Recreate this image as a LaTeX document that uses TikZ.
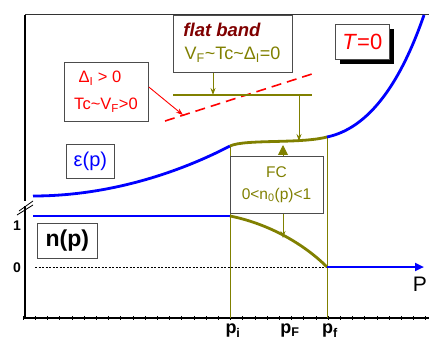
\documentclass[tikz,border=0pt]{standalone}
\usepackage{fontspec}
\setmainfont{Liberation Sans}
\usetikzlibrary{arrows.meta}
\definecolor{olv}{RGB}{128,128,0}
\definecolor{dred}{RGB}{128,0,0}
\newcommand{\mysub}[1]{\textsubscript{#1}}
\begin{document}
\begin{tikzpicture}[x=1pt,y=-1pt,
  boxst/.style={draw=black!70,line width=0.8pt,fill=white,inner sep=2pt,align=center},
  olvline/.style={olv,line width=1.3pt},
  olvarr/.style={olv,line width=0.9pt,-{Stealth[length=7pt,width=5pt]}},
  blueline/.style={blue,line width=2.8pt},
  lbl/.style={font=\bfseries\fontsize{18}{20}\selectfont,inner sep=0pt}]
\useasboundingbox (0,0) rectangle (429,345);
% frame
\draw[black!80,line width=1pt] (25,15) -- (432,15);
\draw[black,line width=1.2pt] (25,15) -- (25,201);
\draw[black,line width=1.2pt] (25,206) -- (25,318) -- (432,318);
\draw[black,line width=0.8pt] (17,215) -- (33,205);
\draw[black,line width=0.8pt] (19,211) -- (33,201);
\foreach \k in {-16,...,17} {\draw[black,line width=0.6pt] (218.3+12.2*\k,316) -- (218.3+12.2*\k,319.5);}
% dashed zero line
\draw[black,dashed,line width=0.5pt,dash pattern=on 2pt off 1.5pt] (35,267) -- (327,267);
% olive verticals
\draw[olvline,line width=1pt] (230,146) -- (230,318);
\draw[olvline,line width=1pt] (327,137) -- (327,318);
% epsilon curve
\draw[blueline] (33,196) .. controls (110,196) and (180,172) .. (230,146);
\draw[olv,line width=2.8pt] (230,146) .. controls (245,139) and (300,144) .. (327,137);
\draw[blueline] (327,137) .. controls (375,127) and (405,70) .. (424,15);
% n curve
\draw[blueline] (33,216) -- (230,216);
\draw[olv,line width=2.8pt] (230,216) .. controls (270,224) and (305,245) .. (327,267);
\draw[blueline,-{Triangle[length=9pt,width=8pt]}] (327,267) -- (424,267);
% red dashed line
\draw[red,line width=1.6pt,dash pattern=on 10pt off 6pt] (165,121) -- (312,74);
% flat band line
\draw[olvline] (173,95) -- (312,95);
% boxes
\node[boxst,minimum width=119pt,minimum height=57pt,anchor=north west] (fb) at (173,15) {};
\node[font=\bfseries\itshape\fontsize{18.5}{20}\selectfont,text=dred,inner sep=0pt] (fbt) at (222,30) {flat band};
\node[font=\fontsize{18}{20}\selectfont,text=olv,inner sep=0pt] (fbv) at (232.5,55) {V\mysub{F}\textasciitilde Tc\textasciitilde Δ\mysub{I}=0};
\node[boxst,minimum width=84pt,minimum height=59pt,anchor=north west] (rb) at (64,62) {};
\node[font=\fontsize{16.5}{18}\selectfont,text=red,inner sep=0pt] (rb1) at (100,78) {Δ\mysub{I} > 0};
\node[font=\fontsize{16.5}{18}\selectfont,text=red,inner sep=0pt] (rb2) at (106,105) {Tc\textasciitilde V\mysub{F}>0};
\node[fill=black,minimum width=54pt,minimum height=35pt,anchor=north west,inner sep=0pt] (ts) at (340,29) {};
\node[boxst,minimum width=54pt,minimum height=35pt,anchor=north west,inner sep=0pt,font=\fontsize{22}{24}\selectfont,text=red] (tz) at (335,24) {\textit{T}=0};
\node[boxst,minimum width=48pt,minimum height=34pt,anchor=north west,inner sep=0pt,font=\fontsize{20}{22}\selectfont,text=blue] (eps) at (66,144) {ε(p)};
\node[boxst,minimum width=93pt,minimum height=57pt,anchor=north west,inner sep=0pt] (fc) at (230,156) {};
\node[font=\fontsize{15.5}{17}\selectfont,text=olv,inner sep=0pt] (fct) at (276.5,172) {FC};
\node[font=\fontsize{15.5}{17}\selectfont,text=olv,inner sep=0pt] (fcn) at (276.5,195) {0<n\mysub{0}(p)<1};
\node[boxst,minimum width=60pt,minimum height=35pt,anchor=north west,inner sep=0pt,font=\bfseries\fontsize{23}{25}\selectfont] (np) at (37,223) {n(p)};
% coordinates for arrows
\coordinate (fbline1) at (213,95);
\coordinate (fbline2) at (299,95);
\coordinate (flat1) at (299,141);
\coordinate (flat2) at (283,145);
\coordinate (ncurve) at (283,238);
\coordinate (redend) at (183,115);
\draw[olvarr] (fb.south -| fbline1) -- (fbline1);
\draw[olvarr] (fbline2) -- (flat1);
\draw[olv,line width=1pt,-{Triangle[length=10pt,width=10pt]}] (fc.north -| flat2) -- (flat2);
\draw[olvarr] (fc.south -| ncurve) -- (ncurve);
\draw[red,line width=0.9pt,-{Stealth[length=7pt,width=5pt]}] (rb.east |- 0,87) -- (redend);
% labels
\node[font=\bfseries\fontsize{14}{16}\selectfont,inner sep=0pt] (one) at (17,226) {1};
\node[font=\bfseries\fontsize{14}{16}\selectfont,inner sep=0pt] (zero) at (17,268) {0};
\node[font=\fontsize{21}{23}\selectfont,inner sep=0pt] (P) at (420,284) {P};
\node[lbl] (pi) at (233,331) {p\mysub{i}};
\node[lbl] (pF) at (290,331) {p\mysub{F}};
\node[lbl] (pf) at (330,331) {p\mysub{f}};
\end{tikzpicture}
\end{document}
